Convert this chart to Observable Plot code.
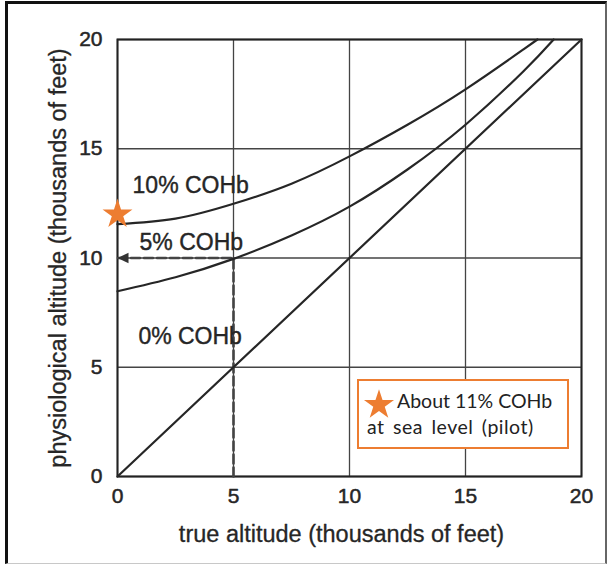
<!DOCTYPE html>
<html>
<head>
<meta charset="utf-8">
<script src="https://cdn.jsdelivr.net/npm/d3@7"></script>
<script src="https://cdn.jsdelivr.net/npm/@observablehq/plot@0.6"></script>
<style>
  body { margin: 0; background: #fff; }
  #wrap { position: relative; width: 610px; height: 567px; overflow: hidden; background: #fff; }
  #chart { position: absolute; left: 0; top: 0; }
  #border { position: absolute; left: 5px; top: 1px; width: 602px; height: 563px; box-sizing: border-box;
            border-left: 3px solid #111; border-top: 3px solid #111; border-right: 2px solid #666; border-bottom: 1px solid #c8c8c8; pointer-events: none; }
  #legend { position: absolute; left: 357px; top: 379px; width: 212px; height: 70px; box-sizing: border-box;
            border: 2px solid #ED7D31; background: #fff; font-family: Lato, "Open Sans", sans-serif; color: #222; }
  #legend .l1 { position: absolute; left: 38px; top: 8px; font-size: 19.5px; white-space: nowrap; }
  #legend .l2 { position: absolute; left: 8px; top: 34px; font-size: 19.5px; white-space: nowrap; letter-spacing: 0.5px; word-spacing: 3px; }
  #legend svg { position: absolute; left: 2px; top: 6px; }
</style>
</head>
<body>
<div id="wrap">
  <div id="chart"></div>
  <div id="border"></div>
  <div id="legend"><svg id="lstar" width="36" height="34"></svg><span class="l1">About 11% COHb</span><span class="l2">at sea level (pilot)</span></div>
</div>
<script>
// Axis ticks
const xTicks = [0, 5, 10, 15, 20];
const yTicks = [0, 5, 10, 15, 20];

// Series (true altitude -> physiological altitude, thousands of feet)
const seriesNames = ["10% COHb", "5% COHb", "0% COHb"];
const true10 = [0, 2.5, 5, 7.5, 10, 12.5, 15, 17.5, 18.1];
const phys10 = [11.55, 11.8, 12.48, 13.4, 14.65, 16.1, 17.72, 19.55, 20];
const true5 = [0, 2.5, 5, 7.5, 10, 12.5, 15, 17.5, 18.8];
const phys5 = [8.48, 9.12, 9.96, 11.03, 12.35, 14.05, 16.1, 18.55, 20];
const true0 = [0, 20];
const phys0 = [0, 20];

// Curve label anchor points (data units)
const labelX = [0.65, 0.95, 0.9];
const labelY = [13.3, 10.7, 6.4];

// Dashed reading path: true 5 -> physiological 10
const readX = [5, 5, 0];
const readY = [0, 10, 10];

// Pilot point
const pilotX = [0];
const pilotY = [12];

const xLabel = "true altitude (thousands of feet)";
const yLabel = "physiological altitude (thousands of feet)";

const rows = [];
[[true10, phys10, seriesNames[0]], [true5, phys5, seriesNames[1]], [true0, phys0, seriesNames[2]]]
  .forEach(([xs, ys, name]) => xs.forEach((x, i) => rows.push({x, y: ys[i], name})));
const readRows = readX.map((x, i) => ({x, y: readY[i]}));
const labelRows = seriesNames.map((name, i) => ({name, x: labelX[i], y: labelY[i]}));

const leftTri = {
  draw(ctx, size) {
    const r = Math.sqrt(size / Math.PI);
    ctx.moveTo(-r, 0);
    ctx.lineTo(r, -r * 0.95);
    ctx.lineTo(r, r * 0.95);
    ctx.closePath();
  }
};

const ink = "#262626";
const font = "'Liberation Sans', Arial, Helvetica, sans-serif";

const chart = Plot.plot({
  width: 610,
  height: 567,
  marginLeft: 117,
  marginRight: 29,
  marginTop: 39,
  marginBottom: 91,
  x: {domain: [0, 20], axis: null},
  y: {domain: [0, 20], axis: null},
  style: {fontFamily: font, background: "transparent"},
  marks: [
    Plot.ruleX(xTicks, {stroke: "#444", strokeWidth: 1.3}),
    Plot.ruleY(yTicks, {stroke: "#444", strokeWidth: 1.3}),
    Plot.frame({stroke: "#222", strokeWidth: 2}),
    Plot.line(readRows, {x: "x", y: "y", stroke: "#444", strokeWidth: 2.6, strokeDasharray: "9,4", strokeLinejoin: "miter"}),
    Plot.dot([readRows[2]], {x: "x", y: "y", symbol: leftTri, r: 5.5, dx: 5.5, fill: "#333", stroke: "none"}),
    Plot.line(rows, {x: "x", y: "y", z: "name", curve: "natural", stroke: ink, strokeWidth: 2.2}),
    Plot.text(labelRows, {x: "x", y: "y", text: "name", textAnchor: "start", fontSize: 23, fill: ink, stroke: ink, strokeWidth: 0.4}),
    Plot.text(xTicks, {x: d => d, y: 0, dy: 20, text: d => String(d), fontSize: 21, fill: ink, stroke: ink, strokeWidth: 0.5}),
    Plot.text(yTicks, {x: 0, y: d => d, dx: -15, textAnchor: "end", text: d => String(d), fontSize: 21, fill: ink, stroke: ink, strokeWidth: 0.5}),
    Plot.text([xLabel], {frameAnchor: "bottom", dy: 65, dx: -8, text: d => d, fontSize: 23.5, fill: ink, stroke: ink, strokeWidth: 0.3}),
    Plot.text([yLabel], {frameAnchor: "left", textAnchor: "middle", dx: -59, rotate: -90, text: d => d, fontSize: 23.5, fill: ink, stroke: ink, strokeWidth: 0.3}),
    Plot.dot(pilotX.map((x, i) => ({x, y: pilotY[i]})), {x: "x", y: "y", symbol: "star", r: 9.4, fill: "#ED7D31", stroke: "none"})
  ]
});
document.getElementById("chart").appendChild(chart);

// legend star
const starPath = d3.symbol(d3.symbolStar, 280)();
d3.select("#lstar").append("path").attr("d", starPath).attr("transform", "translate(18,18)").attr("fill", "#ED7D31");
</script>
</body>
</html>
